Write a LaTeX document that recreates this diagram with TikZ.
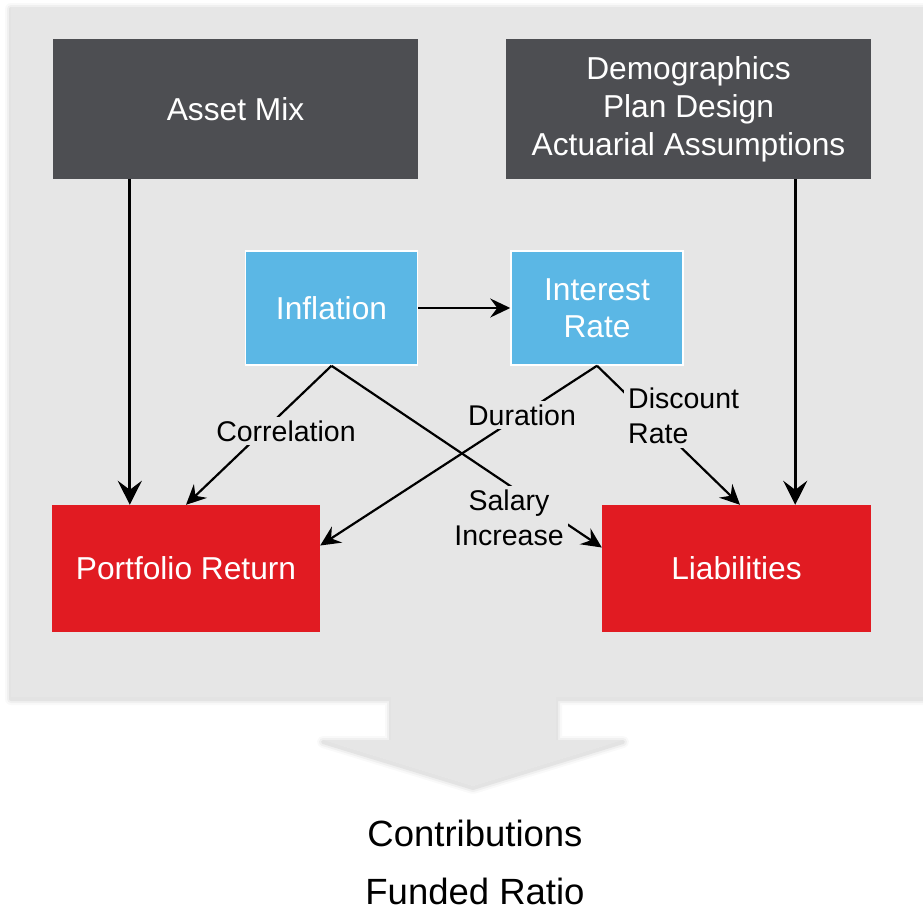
\documentclass[tikz,border=0pt]{standalone}
\usepackage{fontspec}
\setmainfont{Liberation Sans}
\usetikzlibrary{arrows.meta}
\definecolor{bg}{HTML}{E6E6E6}
\definecolor{darkbox}{HTML}{4D4E52}
\definecolor{bluebox}{HTML}{5BB7E5}
\definecolor{redbox}{HTML}{E11B22}
\tikzset{
  darkstyle/.style={fill=darkbox, text=white, minimum width=365pt, minimum height=140pt, inner sep=0pt, align=center, font=\fontsize{31.7}{38}\selectfont},
  bluestyle/.style={fill=bluebox, draw=white, line width=1.5pt, text=white, minimum width=172pt, minimum height=114pt, inner sep=0pt, align=center, font=\fontsize{31.7}{37}\selectfont},
  redstyle/.style={fill=redbox, text=white, minimum height=127pt, inner sep=0pt, align=center, font=\fontsize{31.7}{38}\selectfont},
  lbl/.style={fill=bg, inner sep=4pt, font=\fontsize{28.5}{35}\selectfont, text=black},
  thinarr/.style={line width=2.2pt, -{Stealth[length=20pt,width=19pt,inset=7pt]}},
  thickarr/.style={line width=3pt, -{Stealth[length=24pt,width=24pt,inset=9pt]}},
  bottomtxt/.style={font=\fontsize{36.5}{44}\selectfont, text=black, inner sep=0pt}
}
\begin{document}
\begin{tikzpicture}[x=1pt,y=-1pt]
\useasboundingbox (0,0) rectangle (923,910);
\clip (0,0) rectangle (923,910);
\fill[white] (0,0) rectangle (923,910);
% shadow
\foreach \w/\o in {12/0.025, 8/0.035, 4/0.05} {
  \draw[line width=\w pt, black, opacity=\o, line join=round, yshift=-2pt]
    (11,7) -- (940,7) -- (940,697) -- (556,697) -- (556,740) -- (623,740) -- (473,786) -- (323,740) -- (391,740) -- (391,697) -- (11,697) -- cycle;
}
% panel with arrow
\fill[bg] (11,7) -- (940,7) -- (940,697) -- (556,697) -- (556,740) -- (623,740) -- (473,786) -- (323,740) -- (391,740) -- (391,697) -- (11,697) -- cycle;

% boxes
\node[darkstyle] (asset) at (235.5,109) {Asset Mix};
\node[darkstyle] (demo) at (688.5,109) {\raisebox{-3pt}{\parbox{330pt}{\centering Demographics\\Plan Design\\Actuarial Assumptions}}};
\node[bluestyle] (infl) at (331.5,308) {\raisebox{-2pt}{Inflation}};
\node[bluestyle] (intr) at (597,308) {\raisebox{-2pt}{\parbox{150pt}{\centering Interest\\Rate}}};
\node[redstyle, minimum width=268pt] (pr) at (186,568.5) {\raisebox{-2pt}{Portfolio Return}};
\node[redstyle, minimum width=269pt] (liab) at (736.5,568.5) {\raisebox{-2pt}{Liabilities}};

% vertical arrows
\draw[thickarr] ([xshift=77pt]asset.south west) -- ([xshift=77pt]asset.south west |- pr.north);
\draw[thickarr] ([xshift=-76pt]demo.south east) -- ([xshift=-76pt]demo.south east |- liab.north);

% inflation -> interest
\draw[thinarr] (infl.east) -- (intr.west);

% diagonal connectors
\draw[thinarr] (infl.south) -- (pr.north);
\draw[thinarr] (infl.south) -- ([yshift=21pt]liab.west);
\draw[thinarr] (intr.south) -- ([yshift=23pt]pr.east);
\draw[thinarr] (intr.south) -- ([xshift=3.5pt]liab.north);

% labels covering lines
\node[lbl] (lcorr) at (286,431) {Correlation};
\node[lbl] (ldur) at (522,415) {Duration};
\node[lbl, align=center] (lsal) at (509,518) {Salary\\Increase};
\node[lbl, align=left, anchor=west] (ldisc) at (624,416) {Discount\\Rate};

% bottom text
\node[bottomtxt] (contrib) at (475,833) {Contributions};
\node[bottomtxt] (funded) at (475,891) {Funded Ratio};
\end{tikzpicture}
\end{document}
